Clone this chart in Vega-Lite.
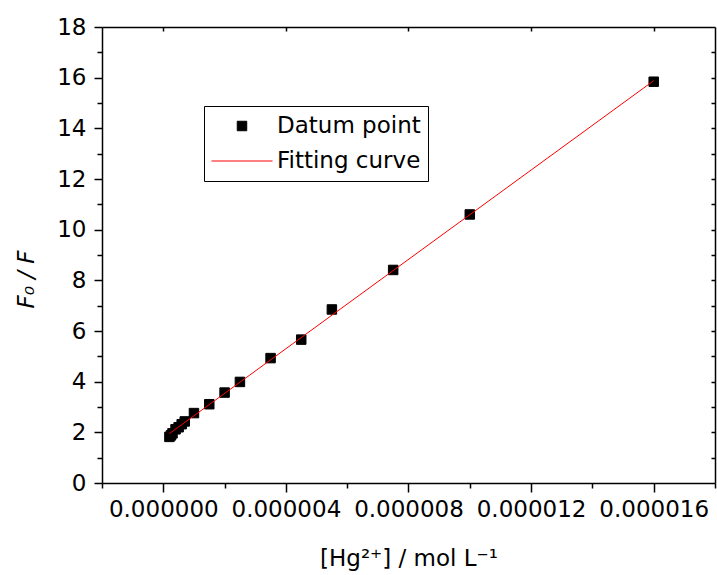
{
  "$schema": "https://vega.github.io/schema/vega-lite/v6.json",
  "width": 613,
  "height": 456,
  "autosize": {"type": "none"},
  "padding": {"left": 102, "top": 27, "right": 2, "bottom": 92},
  "background": "white",
  "config": {
    "font": "DejaVu Sans",
    "view": {"stroke": null},
    "axis": {
      "grid": false,
      "domainColor": "black",
      "domainWidth": 1.5,
      "tickColor": "black",
      "tickWidth": 1.5,
      "labelColor": "black",
      "labelFont": "DejaVu Sans",
      "labelFontSize": 23,
      "titleFont": "DejaVu Sans",
      "titleFontSize": 23,
      "titleFontWeight": "normal",
      "titleColor": "black"
    }
  },
  "datasets": {
    "points": [
      {"conc": 0.0000002, "ratio": 1.82, "series": "Datum point"},
      {"conc": 0.00000025, "ratio": 1.88, "series": "Datum point"},
      {"conc": 0.0000003, "ratio": 1.96, "series": "Datum point"},
      {"conc": 0.0000004, "ratio": 2.12, "series": "Datum point"},
      {"conc": 0.0000005, "ratio": 2.2, "series": "Datum point"},
      {"conc": 0.0000006, "ratio": 2.32, "series": "Datum point"},
      {"conc": 0.0000007, "ratio": 2.43, "series": "Datum point"},
      {"conc": 0.000001, "ratio": 2.76, "series": "Datum point"},
      {"conc": 0.0000015, "ratio": 3.11, "series": "Datum point"},
      {"conc": 0.000002, "ratio": 3.57, "series": "Datum point"},
      {"conc": 0.0000025, "ratio": 3.99, "series": "Datum point"},
      {"conc": 0.0000035, "ratio": 4.93, "series": "Datum point"},
      {"conc": 0.0000045, "ratio": 5.66, "series": "Datum point"},
      {"conc": 0.0000055, "ratio": 6.85, "series": "Datum point"},
      {"conc": 0.0000075, "ratio": 8.41, "series": "Datum point"},
      {"conc": 0.00001, "ratio": 10.6, "series": "Datum point"},
      {"conc": 0.000016, "ratio": 15.84, "series": "Datum point"}
    ],
    "fit": [
      {"conc": 0.0000002, "ratio": 1.95},
      {"conc": 0.000016, "ratio": 15.88}
    ]
  },
  "layer": [
    {
      "data": {"name": "points"},
      "mark": {"type": "point", "filled": false, "fill": "black", "fillOpacity": 1, "opacity": 1, "strokeWidth": 1},
      "encoding": {
        "x": {
          "field": "conc", "type": "quantitative",
          "scale": {"domain": [-0.000002, 0.000018], "nice": false, "zero": false},
          "axis": {"orient": "bottom", "values": [-0.000002, 0.000002, 0.000006, 0.00001, 0.000014, 0.000018], "labels": false, "tickSize": 5, "title": null, "domain": false}
        },
        "y": {
          "field": "ratio", "type": "quantitative",
          "scale": {"domain": [0, 18], "nice": false, "zero": false},
          "axis": {"orient": "left", "values": [1, 3, 5, 7, 9, 11, 13, 15, 17], "labels": false, "tickSize": 5, "title": null, "domain": false}
        },
        "color": {
          "field": "series", "type": "nominal",
          "scale": {"domain": ["Datum point", "Fitting curve"], "range": ["black", "red"]},
          "legend": {
            "title": null, "orient": "none", "legendX": 102, "legendY": 79,
            "labelFont": "DejaVu Sans", "labelFontSize": 23, "labelColor": "black",
            "strokeColor": "black", "fillColor": "white", "padding": 7,
            "clipHeight": 26, "rowPadding": 9, "labelOffset": 4, "symbolStrokeWidth": 1
          }
        },
        "shape": {
          "field": "series", "type": "nominal",
          "scale": {"domain": ["Datum point", "Fitting curve"], "range": ["square", "stroke"]}
        },
        "size": {
          "field": "series", "type": "ordinal",
          "scale": {"domain": ["Datum point", "Fitting curve"], "range": [90, 3721]}
        }
      }
    },
    {
      "data": {"name": "fit"},
      "mark": {"type": "line", "color": "red", "strokeWidth": 1},
      "encoding": {
        "x": {
          "field": "conc", "type": "quantitative",
          "axis": {"orient": "bottom", "values": [0, 0.000004, 0.000008, 0.000012, 0.000016], "format": ".6f", "tickSize": 9, "labelPadding": 6, "title": "[Hg²⁺] / mol L⁻¹", "titleY": 82, "titleBaseline": "alphabetic"}
        },
        "y": {
          "field": "ratio", "type": "quantitative",
          "axis": {"orient": "left", "values": [0, 2, 4, 6, 8, 10, 12, 14, 16, 18], "tickSize": 8, "labelPadding": 8, "title": "F₀ / F", "titleFontStyle": "italic", "titleX": -76, "titleY": 252, "titleBaseline": "middle"}
        }
      }
    },
    {
      "data": {"name": "fit"},
      "mark": {"type": "line", "opacity": 0},
      "encoding": {
        "x": {
          "field": "conc", "type": "quantitative",
          "axis": {"orient": "top", "values": [0, 0.000004, 0.000008, 0.000012, 0.000016], "labels": false, "tickSize": -4, "title": null}
        },
        "y": {
          "field": "ratio", "type": "quantitative",
          "axis": {"orient": "right", "values": [1, 2, 3, 4, 5, 6, 7, 8, 9, 10, 11, 12, 13, 14, 15, 16, 17], "labels": false, "tickSize": -4, "title": null}
        }
      }
    }
  ],
  "resolve": {"axis": {"x": "independent", "y": "independent"}}
}
